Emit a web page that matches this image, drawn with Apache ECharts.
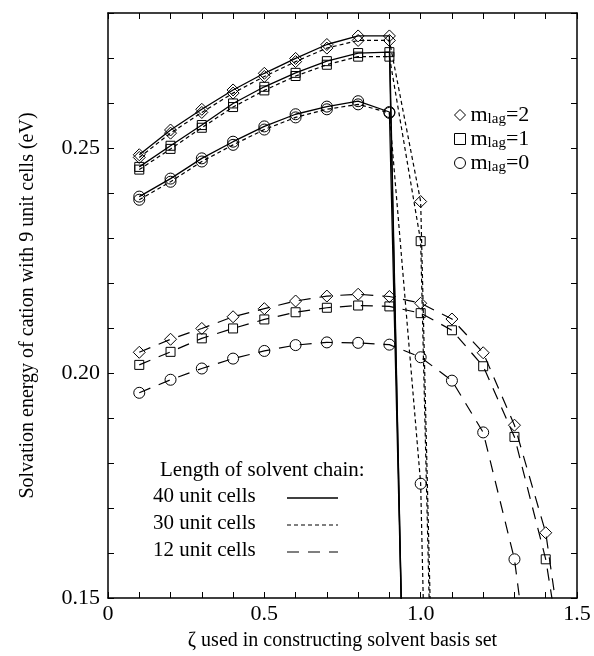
<!DOCTYPE html>
<html>
<head>
<meta charset="utf-8">
<script src="https://cdn.jsdelivr.net/npm/echarts@6/dist/echarts.min.js"></script>
<style>
html,body{margin:0;padding:0;background:#fff;}
#chart{width:594px;height:656px;}
</style>
</head>
<body>
<div id="chart"></div>
<script>
// zeta used for the solvent basis set
var zeta40 = [0.1, 0.2, 0.3, 0.4, 0.5, 0.6, 0.7, 0.8, 0.9, 1.0];
var zeta30 = [0.1, 0.2, 0.3, 0.4, 0.5, 0.6, 0.7, 0.8, 0.9, 1.0, 1.1];
var zeta12 = [0.1, 0.2, 0.3, 0.4, 0.5, 0.6, 0.7, 0.8, 0.9, 1.0, 1.1, 1.2, 1.3, 1.4, 1.5];
var zeta12c = [0.1, 0.2, 0.3, 0.4, 0.5, 0.6, 0.7, 0.8, 0.9, 1.0, 1.1, 1.2, 1.3, 1.4];

// 40 unit cells (solid)
var e40m2 = [0.2485, 0.2540, 0.2586, 0.2629, 0.2666, 0.2699, 0.2730, 0.2749, 0.2749, -0.055];
var e40m1 = [0.2458, 0.2505, 0.2551, 0.2599, 0.2636, 0.2667, 0.2693, 0.2711, 0.2713, -0.050];
var e40m0 = [0.2392, 0.2432, 0.2477, 0.2514, 0.2548, 0.2575, 0.2592, 0.2604, 0.2580, -0.030];

// 30 unit cells (short dash)
var e30m2 = [0.2479, 0.2533, 0.2579, 0.2622, 0.2659, 0.2692, 0.2722, 0.2739, 0.2739, 0.2381, -0.055];
var e30m1 = [0.2452, 0.2498, 0.2545, 0.2591, 0.2628, 0.2660, 0.2685, 0.2703, 0.2703, 0.2293, -0.064];
var e30m0 = [0.2385, 0.2425, 0.2470, 0.2507, 0.2541, 0.2568, 0.2586, 0.2597, 0.2578, 0.1754, -0.135];

// 12 unit cells (long dash)
var e12m2 = [0.2046, 0.2075, 0.2099, 0.2125, 0.2143, 0.2160, 0.2171, 0.2175, 0.2170, 0.2155, 0.2120, 0.2045, 0.1884, 0.1645, 0.116];
var e12m1 = [0.2018, 0.2047, 0.2077, 0.2099, 0.2119, 0.2135, 0.2145, 0.2150, 0.2148, 0.2133, 0.2095, 0.2015, 0.1858, 0.1586, 0.115];
var e12m0 = [0.1956, 0.1985, 0.2010, 0.2032, 0.2049, 0.2062, 0.2068, 0.2067, 0.2063, 0.2035, 0.1983, 0.1868, 0.1586, 0.105];

var xTickLabels = ['0', '0.5', '1.0', '1.5'];
var yTickLabels = ['0.15', '0.20', '0.25'];
var chainLabels = ['Length of solvent chain:', '40 unit cells', '30 unit cells', '12 unit cells'];

var FONT = '"Liberation Serif", "Times New Roman", serif';

function pairs(xs, ys) {
    return xs.map(function (x, i) { return [x, ys[i]]; });
}

function findLabel(list, v) {
    for (var i = 0; i < list.length; i++) {
        if (Math.abs(parseFloat(list[i]) - v) < 1e-6) return list[i];
    }
    return '';
}

function makeSeries(name, xs, ys, symbol, size, dash, width) {
    return {
        name: name,
        type: 'line',
        data: pairs(xs, ys),
        symbol: symbol,
        symbolSize: size,
        showAllSymbol: true,
        clip: true,
        silent: true,
        itemStyle: { color: 'rgba(0,0,0,0)', borderColor: '#000', borderWidth: 1 },
        lineStyle: { color: '#000', width: width, type: dash }
    };
}

var chart = echarts.init(document.getElementById('chart'));

var tickStyle = { show: true, inside: true, length: 6, lineStyle: { color: '#000', width: 1 } };
var lineAxis = { show: true, onZero: false, lineStyle: { color: '#000', width: 1.5 } };

var option = {
    animation: false,
    backgroundColor: '#fff',
    grid: { left: 108, right: 17, top: 13, bottom: 53 },
    xAxis: [
        {
            type: 'value', min: 0, max: 1.5, interval: 0.1,
            axisLine: lineAxis, axisTick: tickStyle, splitLine: { show: false },
            axisLabel: {
                color: '#000', fontFamily: FONT, fontSize: 22, margin: 5,
                formatter: function (v) { return findLabel(xTickLabels, v); }
            },
            name: 'ζ used in constructing solvent basis set',
            nameLocation: 'middle', nameGap: 33,
            nameTextStyle: { color: '#000', fontFamily: FONT, fontSize: 20 }
        },
        {
            type: 'value', position: 'top', min: 0, max: 1.5, interval: 0.1,
            axisLine: lineAxis, axisTick: tickStyle, axisLabel: { show: false }, splitLine: { show: false }
        }
    ],
    yAxis: [
        {
            type: 'value', min: 0.15, max: 0.28, interval: 0.01,
            axisLine: lineAxis, axisTick: tickStyle, splitLine: { show: false },
            axisLabel: {
                color: '#000', fontFamily: FONT, fontSize: 22, margin: 8,
                formatter: function (v) { return findLabel(yTickLabels, v); }
            },
            name: 'Solvation energy of cation with 9 unit cells (eV)',
            nameLocation: 'middle', nameGap: 70,
            nameTextStyle: { color: '#000', fontFamily: FONT, fontSize: 20 }
        },
        {
            type: 'value', position: 'right', min: 0.15, max: 0.28, interval: 0.01,
            axisLine: lineAxis, axisTick: tickStyle, axisLabel: { show: false }, splitLine: { show: false }
        }
    ],
    legend: {
        orient: 'vertical',
        left: 449,
        top: 99,
        itemGap: 1,
        itemWidth: 11,
        itemHeight: 11,
        selectedMode: false,
        itemStyle: { color: 'rgba(0,0,0,0)', borderColor: '#000', borderWidth: 1 },
        data: [
            { name: 'mlag=2', icon: 'diamond' },
            { name: 'mlag=1', icon: 'rect' },
            { name: 'mlag=0', icon: 'circle' }
        ],
        formatter: function (name) {
            return '{m|m}{s|lag}{m|=' + name.slice(-1) + '}';
        },
        textStyle: {
            color: '#000',
            rich: {
                m: { fontFamily: FONT, fontSize: 22, color: '#000' },
                s: { fontFamily: FONT, fontSize: 15, color: '#000', padding: [9, 0, 0, 0] }
            }
        }
    },
    graphic: [
        { type: 'text', left: 160, top: 460, style: { text: chainLabels[0], font: '21px ' + FONT, fill: '#000' } },
        { type: 'text', left: 153, top: 486, style: { text: chainLabels[1], font: '21px ' + FONT, fill: '#000' } },
        { type: 'text', left: 153, top: 513, style: { text: chainLabels[2], font: '21px ' + FONT, fill: '#000' } },
        { type: 'text', left: 153, top: 540, style: { text: chainLabels[3], font: '21px ' + FONT, fill: '#000' } },
        { type: 'line', shape: { x1: 287, y1: 498, x2: 338, y2: 498 }, style: { stroke: '#000', lineWidth: 1.6 } },
        { type: 'line', shape: { x1: 287, y1: 525, x2: 338, y2: 525 }, style: { stroke: '#000', lineWidth: 1.2, lineDash: [4, 3] } },
        { type: 'line', shape: { x1: 287, y1: 552, x2: 338, y2: 552 }, style: { stroke: '#000', lineWidth: 1.2, lineDash: [12, 9] } }
    ],
    series: [
        makeSeries('mlag=2', zeta40, e40m2, 'diamond', 12, 'solid', 1.3),
        makeSeries('mlag=1', zeta40, e40m1, 'rect', 9, 'solid', 1.3),
        makeSeries('mlag=0', zeta40, e40m0, 'circle', 11, 'solid', 1.3),
        makeSeries('30 m2', zeta30, e30m2, 'diamond', 12, [4, 3], 1.2),
        makeSeries('30 m1', zeta30, e30m1, 'rect', 9, [4, 3], 1.2),
        makeSeries('30 m0', zeta30, e30m0, 'circle', 11, [4, 3], 1.2),
        makeSeries('12 m2', zeta12, e12m2, 'diamond', 12, [12, 9], 1.2),
        makeSeries('12 m1', zeta12, e12m1, 'rect', 9, [12, 9], 1.2),
        makeSeries('12 m0', zeta12c, e12m0, 'circle', 11, [12, 9], 1.2)
    ]
};

chart.setOption(option);
</script>
</body>
</html>
